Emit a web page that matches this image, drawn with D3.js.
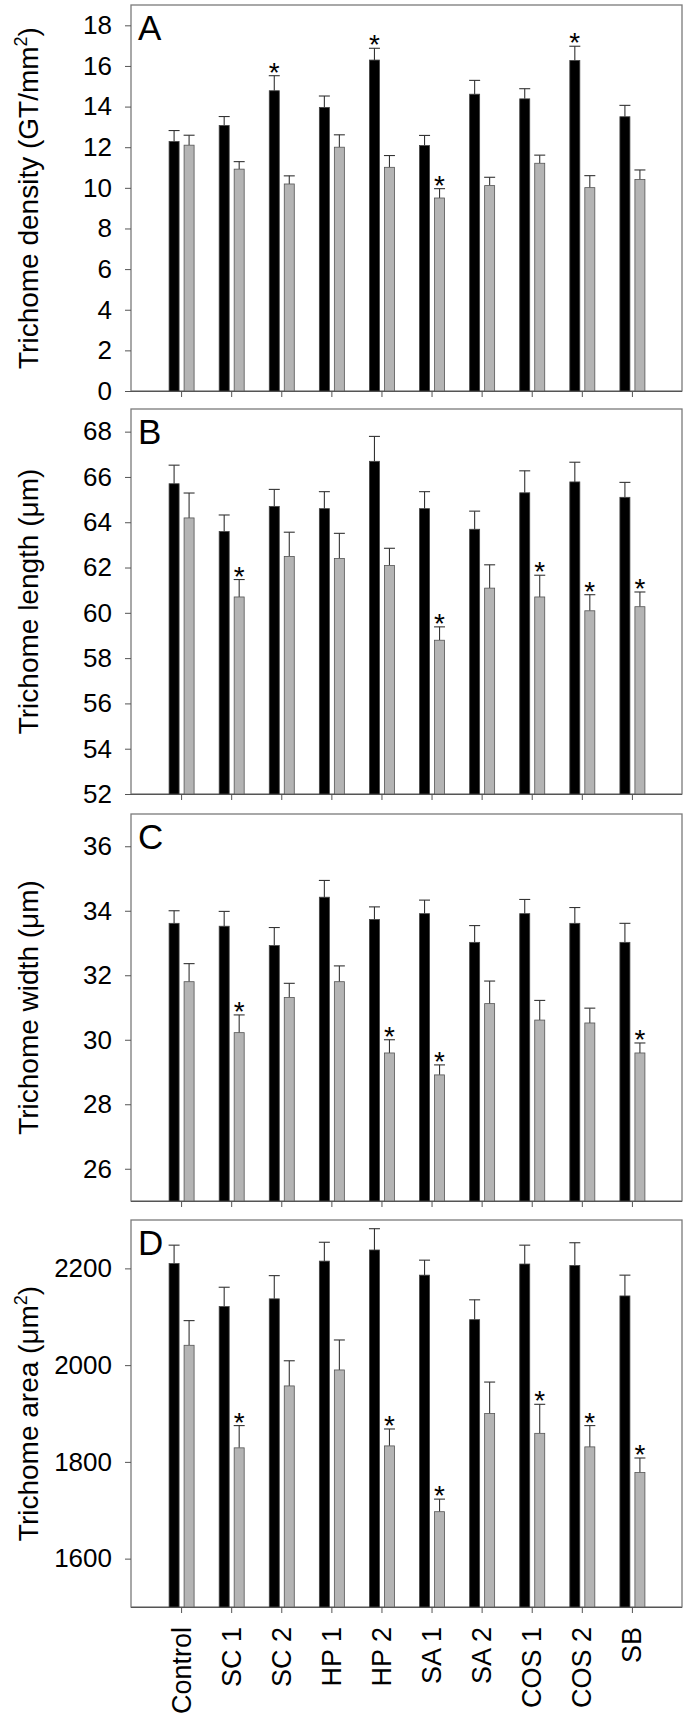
<!DOCTYPE html>
<html>
<head>
<meta charset="utf-8">
<script src="https://cdn.jsdelivr.net/npm/d3@7"></script>
<style>
  html, body { margin: 0; padding: 0; background: #fff; }
  svg { display: block; font-family: "Liberation Sans", Arial, sans-serif; }
</style>
</head>
<body>
<svg id="chart" width="688" height="1718"></svg>
<script>
// ---------- DATA ----------
const categories = ["Control", "SC 1", "SC 2", "HP 1", "HP 2", "SA 1", "SA 2", "COS 1", "COS 2", "SB"];

// Panel A: trichome density (GT/mm2)
const densityBlack    = [12.28, 13.07, 14.78, 13.96, 16.29, 12.08, 14.61, 14.38, 16.27, 13.50];
const densityBlackErr = [0.54, 0.44, 0.74, 0.56, 0.58, 0.50, 0.68, 0.50, 0.70, 0.56];
const densityGray     = [12.10, 10.92, 10.19, 12.00, 11.01, 9.50, 10.11, 11.21, 10.01, 10.41];
const densityGrayErr  = [0.49, 0.37, 0.40, 0.61, 0.58, 0.46, 0.41, 0.40, 0.59, 0.47];
const densityBlackSig = [0, 0, 1, 0, 1, 0, 0, 0, 1, 0];
const densityGraySig  = [0, 0, 0, 0, 0, 1, 0, 0, 0, 0];
const densityTicks    = [0, 2, 4, 6, 8, 10, 12, 14, 16, 18];

// Panel B: trichome length (µm)
const lengthBlack    = [65.70, 63.59, 64.70, 64.60, 66.69, 64.60, 63.69, 65.30, 65.78, 65.10];
const lengthBlackErr = [0.82, 0.73, 0.75, 0.75, 1.10, 0.75, 0.80, 0.97, 0.87, 0.66];
const lengthGray     = [64.19, 60.70, 62.49, 62.40, 62.09, 58.79, 61.09, 60.70, 60.09, 60.27];
const lengthGrayErr  = [1.10, 0.77, 1.07, 1.11, 0.76, 0.59, 1.03, 0.96, 0.71, 0.65];
const lengthBlackSig = [0, 0, 0, 0, 0, 0, 0, 0, 0, 0];
const lengthGraySig  = [0, 1, 0, 0, 0, 1, 0, 1, 1, 1];
const lengthTicks    = [52, 54, 56, 58, 60, 62, 64, 66, 68];

// Panel C: trichome width (µm)
const widthBlack    = [33.61, 33.52, 32.92, 34.42, 33.73, 33.91, 33.02, 33.91, 33.61, 33.02];
const widthBlackErr = [0.39, 0.46, 0.56, 0.52, 0.39, 0.42, 0.52, 0.44, 0.49, 0.59];
const widthGray     = [31.80, 30.22, 31.31, 31.80, 29.59, 28.91, 31.12, 30.61, 30.52, 29.59];
const widthGrayErr  = [0.56, 0.55, 0.44, 0.49, 0.41, 0.31, 0.70, 0.61, 0.46, 0.31];
const widthBlackSig = [0, 0, 0, 0, 0, 0, 0, 0, 0, 0];
const widthGraySig  = [0, 1, 0, 0, 1, 1, 0, 0, 0, 1];
const widthTicks    = [26, 28, 30, 32, 34, 36];

// Panel D: trichome area (µm2)
const areaBlack    = [2210, 2121, 2137, 2215, 2238, 2186, 2094, 2209, 2206, 2143];
const areaBlackErr = [38, 40, 48, 39, 44, 31, 41, 39, 47, 43];
const areaGray     = [2041, 1829, 1957, 1990, 1833, 1697, 1900, 1859, 1831, 1778];
const areaGrayErr  = [51, 46, 52, 62, 35, 26, 65, 60, 44, 30];
const areaBlackSig = [0, 0, 0, 0, 0, 0, 0, 0, 0, 0];
const areaGraySig  = [0, 1, 0, 0, 1, 1, 0, 1, 1, 1];
const areaTicks    = [1600, 1800, 2000, 2200];

// ---------- PANELS ----------
const panels = [
  { letter: "A", title: "Trichome density (GT/mm", sup: "2", domain: [0, 19], ticks: densityTicks,
    black: densityBlack, blackErr: densityBlackErr, gray: densityGray, grayErr: densityGrayErr,
    blackSig: densityBlackSig, graySig: densityGraySig, top: 5, bottom: 391 },
  { letter: "B", title: "Trichome length (\u03bcm)", sup: null, domain: [52, 69], ticks: lengthTicks,
    black: lengthBlack, blackErr: lengthBlackErr, gray: lengthGray, grayErr: lengthGrayErr,
    blackSig: lengthBlackSig, graySig: lengthGraySig, top: 409, bottom: 794 },
  { letter: "C", title: "Trichome width (\u03bcm)", sup: null, domain: [25, 37], ticks: widthTicks,
    black: widthBlack, blackErr: widthBlackErr, gray: widthGray, grayErr: widthGrayErr,
    blackSig: widthBlackSig, graySig: widthGraySig, top: 814, bottom: 1201 },
  { letter: "D", title: "Trichome area (\u03bcm", sup: "2", domain: [1500, 2300], ticks: areaTicks,
    black: areaBlack, blackErr: areaBlackErr, gray: areaGray, grayErr: areaGrayErr,
    blackSig: areaBlackSig, graySig: areaGraySig, top: 1220, bottom: 1607 }
];

const svg = d3.select("#chart");
const left = 131, right = 682;
const x = d3.scalePoint().domain(categories).range([left, right]).padding(1);

panels.forEach((p, pi) => {
  const y = d3.scaleLinear().domain(p.domain).range([p.bottom, p.top]);
  const g = svg.append("g");

  // frame
  g.append("rect")
    .attr("x", left).attr("y", p.top)
    .attr("width", right - left).attr("height", p.bottom - p.top)
    .attr("fill", "none").attr("stroke", "#7a7a7a").attr("stroke-width", 1.3);

  // y axis
  const ya = g.append("g").attr("transform", `translate(${left},0)`)
    .call(d3.axisLeft(y).tickValues(p.ticks).tickSize(6).tickPadding(13).tickFormat(d3.format("d")));
  ya.select(".domain").remove();
  ya.selectAll(".tick line").attr("stroke", "#555");
  ya.selectAll(".tick text").attr("font-size", 26).attr("fill", "#000")
    .attr("font-family", "'Liberation Sans', Arial, sans-serif");

  // x axis
  const xa = g.append("g").attr("transform", `translate(0,${p.bottom})`)
    .call(d3.axisBottom(x).tickSize(6).tickFormat(""));
  xa.select(".domain").attr("d", `M${left},0.5H${right}`).attr("stroke", "#555");
  xa.selectAll(".tick line").attr("stroke", "#555");

  // bars with upper error bars and significance stars
  const draw = (vals, errs, sigs, dx, fill, stroke) => {
    categories.forEach((c, i) => {
      const cx = x(c) + dx;
      const v = vals[i], e = errs[i];
      g.append("line")
        .attr("x1", cx).attr("x2", cx).attr("y1", y(v)).attr("y2", y(v + e))
        .attr("stroke", "#333").attr("stroke-width", 1.1);
      g.append("line")
        .attr("x1", cx - 5.5).attr("x2", cx + 5.5).attr("y1", y(v + e)).attr("y2", y(v + e))
        .attr("stroke", "#333").attr("stroke-width", 1.1);
      g.append("rect")
        .attr("x", cx - 5).attr("width", 10)
        .attr("y", y(v)).attr("height", p.bottom - y(v))
        .attr("fill", fill).attr("stroke", stroke).attr("stroke-width", 0.8);
      if (sigs[i]) {
        g.append("text").attr("x", cx).attr("y", y(v + e) + 6)
          .attr("text-anchor", "middle").attr("font-size", 28).attr("fill", "#000")
          .text("*");
      }
    });
  };
  draw(p.black, p.blackErr, p.blackSig, -7, "#000", "#444");
  draw(p.gray, p.grayErr, p.graySig, 8, "#b4b4b4", "#555");

  // panel letter
  g.append("text").attr("x", left + 7).attr("y", p.top + 35)
    .attr("font-size", 35).attr("fill", "#000").text(p.letter);

  // y title
  const cy = (p.top + p.bottom) / 2;
  const t = g.append("text")
    .attr("transform", `translate(38,${cy}) rotate(-90)`)
    .attr("text-anchor", "middle").attr("font-size", 28).attr("fill", "#000");
  t.append("tspan").text(p.title);
  if (p.sup) {
    t.append("tspan").attr("font-size", 18).attr("dy", -11).text(p.sup);
    t.append("tspan").attr("dy", 11).text(")");
  }

  // category labels on last panel
  if (pi === panels.length - 1) {
    categories.forEach(c => {
      g.append("text")
        .attr("transform", `translate(${x(c)},${p.bottom + 20}) rotate(-90)`)
        .attr("text-anchor", "end").attr("dy", "0.35em")
        .attr("font-size", 27).attr("fill", "#000").text(c);
    });
  }
});
</script>
</body>
</html>
